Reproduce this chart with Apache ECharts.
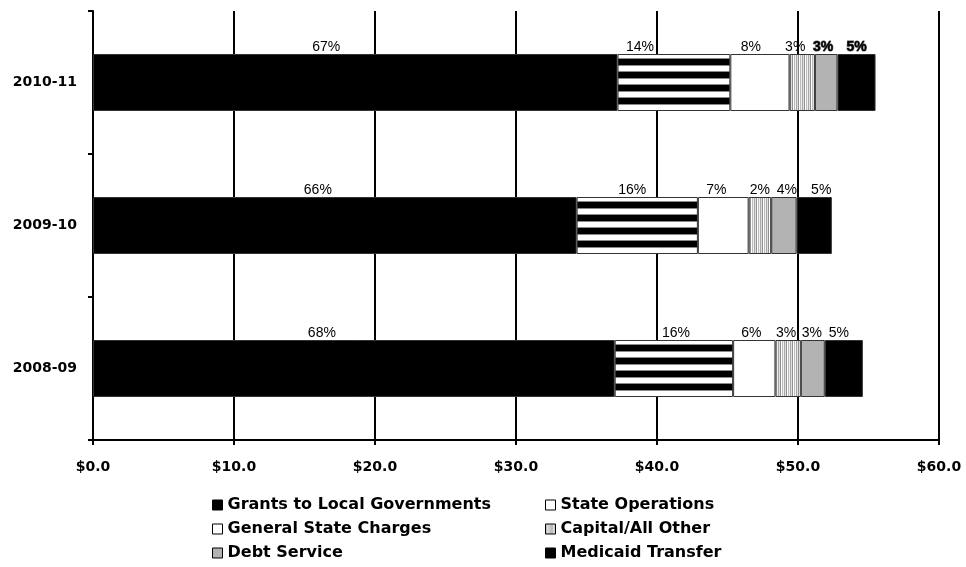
<!DOCTYPE html>
<html>
<head>
<meta charset="utf-8">
<script src="https://cdn.jsdelivr.net/npm/echarts@6/dist/echarts.min.js"></script>
<style>
  html, body { margin: 0; padding: 0; background: #fff; }
  #chart { width: 966px; height: 567px; }
</style>
</head>
<body>
<div id="chart"></div>
<script>
// Fiscal years, top to bottom
const years = ['2010-11', '2009-10', '2008-09'];

// Spending by category ($ billions)
const grants   = [37.2, 34.3, 37.0];
const stateOps = [8.0, 8.6, 8.4];
const genState = [4.2, 3.6, 3.0];
const capital  = [1.8, 1.6, 1.8];
const debt     = [1.6, 1.8, 1.7];
const medicaid = [2.7, 2.5, 2.7];

// Share of each year's total, as printed above the segments
const grantsPct   = [67, 66, 68];
const stateOpsPct = [14, 16, 16];
const genStatePct = [8, 7, 6];
const capitalPct  = [3, 2, 3];
const debtPct     = [3, 4, 3];
const medicaidPct = [5, 5, 5];

// x-axis ticks
const xTicks = [0, 10, 20, 30, 40, 50, 60];

const LABEL_FONT = 'Liberation Sans, Arial, sans-serif';
const HEAVY_FONT = 'DejaVu Sans, Verdana, sans-serif';

// Horizontal black/white stripes
function stripeTile() {
  const c = document.createElement('canvas');
  c.width = 8; c.height = 13;
  const g = c.getContext('2d');
  g.fillStyle = '#000'; g.fillRect(0, 0, 8, 13);
  g.fillStyle = '#fff'; g.fillRect(0, 0, 8, 7);
  g.fillStyle = '#8a8a8a'; g.fillRect(0, 0, 8, 1); g.fillRect(0, 6, 8, 1);
  return c;
}
// Fine vertical grey hatching
function hatchTile() {
  const c = document.createElement('canvas');
  c.width = 6; c.height = 8;
  const g = c.getContext('2d');
  const cols = ['#909090', '#ffffff', '#bcbcbc', '#f0f0f0', '#a8a8a8', '#e0e0e0'];
  cols.forEach((col, i) => { g.fillStyle = col; g.fillRect(i, 0, 1, 8); });
  return c;
}

// small horizontal nudges for the percentage labels
const labelNudge = {
  grants:   [-29, -17, -32],
  stateOps: [-34, -5, 2],
  genState: [-9, -7, -3],
  capital:  [-7, 0, -2],
  debt:     [-3, 3, -1],
  medicaid: [0, 7, -5]
};

function makeSeries(name, key, values, pct, fill) {
  return {
    name: name,
    type: 'bar',
    stack: 'total',
    barWidth: 57,
    itemStyle: { color: fill, borderColor: '#333', borderWidth: 1 },
    label: {
      show: true,
      position: 'top',
      distance: 0,
      color: '#000',
      fontFamily: LABEL_FONT,
      fontSize: 14,
      formatter: p => pct[p.dataIndex] + '%'
    },
    data: values.map((v, i) => {
      const item = { value: v, label: { offset: [labelNudge[key][i], 0] } };
      if (i === 0 && (key === 'debt' || key === 'medicaid')) {
        item.label.fontWeight = 'bold';
        item.label.textBorderColor = '#555';
        item.label.textBorderWidth = 1;
      }
      return item;
    })
  };
}

const chart = echarts.init(document.getElementById('chart'), null, { renderer: 'canvas' });

const legendText = {
  color: '#000',
  fontFamily: HEAVY_FONT,
  fontSize: 16,
  fontWeight: 'bold',
  lineHeight: 16
};

chart.setOption({
  animation: false,
  backgroundColor: '#fff',
  grid: { left: 93, right: 27, top: 11, bottom: 127, containLabel: false },
  xAxis: {
    type: 'value',
    min: 0,
    max: 60,
    interval: 10,
    axisLine: { show: true, lineStyle: { color: '#000', width: 2 } },
    axisTick: { show: true, length: 5, lineStyle: { color: '#000', width: 2 } },
    splitLine: { show: true, lineStyle: { color: '#000', width: 2 } },
    axisLabel: {
      margin: 20,
      color: '#000',
      fontFamily: HEAVY_FONT,
      fontSize: 14,
      fontWeight: 'bold',
      formatter: v => xTicks.indexOf(v) >= 0 ? '$' + v.toFixed(1) : ''
    }
  },
  yAxis: {
    type: 'category',
    data: years,
    inverse: true,
    axisLine: { show: true, lineStyle: { color: '#000', width: 2 } },
    axisTick: { show: true, length: 5, lineStyle: { color: '#000', width: 2 } },
    axisLabel: {
      margin: 16,
      color: '#000',
      fontFamily: HEAVY_FONT,
      fontSize: 14,
      fontWeight: 'bold'
    }
  },
  legend: [
    {
      orient: 'vertical',
      left: 212,
      top: 497,
      padding: 0,
      itemWidth: 10,
      itemHeight: 10,
      itemGap: 8,
      icon: 'rect',
      selectedMode: false,
      textStyle: legendText,
      itemStyle: { borderColor: '#000', borderWidth: 1 },
      data: ['Grants to Local Governments', 'General State Charges', 'Debt Service']
    },
    {
      orient: 'vertical',
      left: 545,
      top: 497,
      padding: 0,
      itemWidth: 10,
      itemHeight: 10,
      itemGap: 8,
      icon: 'rect',
      selectedMode: false,
      textStyle: legendText,
      itemStyle: { borderColor: '#000', borderWidth: 1 },
      data: [
        { name: 'State Operations', itemStyle: { color: '#fff', borderColor: '#000', borderWidth: 1 } },
        'Capital/All Other',
        'Medicaid Transfer'
      ]
    }
  ],
  series: [
    makeSeries('Grants to Local Governments', 'grants', grants, grantsPct, '#000'),
    makeSeries('State Operations', 'stateOps', stateOps, stateOpsPct, { image: stripeTile(), repeat: 'repeat' }),
    makeSeries('General State Charges', 'genState', genState, genStatePct, '#fff'),
    makeSeries('Capital/All Other', 'capital', capital, capitalPct, { image: hatchTile(), repeat: 'repeat' }),
    makeSeries('Debt Service', 'debt', debt, debtPct, '#b3b3b3'),
    makeSeries('Medicaid Transfer', 'medicaid', medicaid, medicaidPct, '#000')
  ]
});
</script>
</body>
</html>
